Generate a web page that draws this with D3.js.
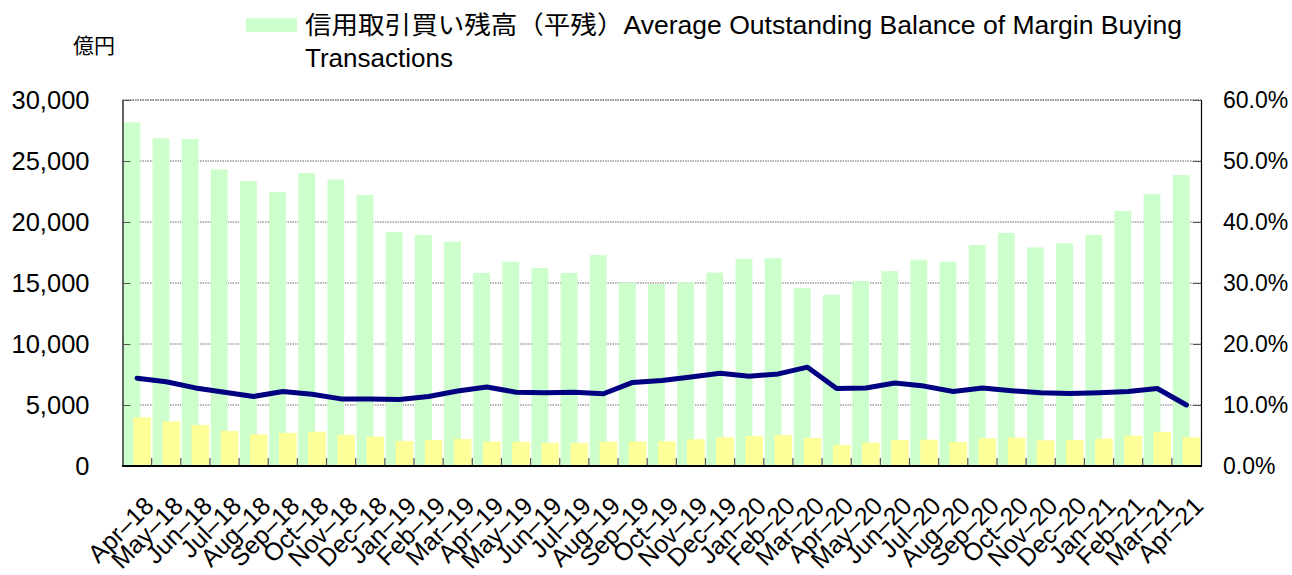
<!DOCTYPE html>
<html>
<head>
<meta charset="utf-8">
<script src="https://cdn.jsdelivr.net/npm/d3@7"></script>
<style>
  html, body { margin: 0; padding: 0; background: #fff; }
  svg { display: block; }
  text { font-family: "Liberation Sans", Arial, "Noto Sans CJK JP", sans-serif; fill: #000; }
</style>
</head>
<body>
<svg id="chart" width="1292" height="575"></svg>
<script>
// ---- data ----
const categories = ["Apr–18","May–18","Jun–18","Jul–18","Aug–18","Sep–18","Oct–18","Nov–18","Dec–18",
  "Jan–19","Feb–19","Mar–19","Apr–19","May–19","Jun–19","Jul–19","Aug–19","Sep–19","Oct–19","Nov–19","Dec–19",
  "Jan–20","Feb–20","Mar–20","Apr–20","May–20","Jun–20","Jul–20","Aug–20","Sep–20","Oct–20","Nov–20","Dec–20",
  "Jan–21","Feb–21","Mar–21","Apr–21"];
// 信用取引買い残高（平残） 億円
const buyingBalance = [28170, 26860, 26800, 24320, 23360, 22460, 24020, 23470, 22210,
  19180, 18940, 18390, 15820, 16750, 16230, 15820, 17300, 15030, 14920, 15060, 15850,
  16970, 17050, 14590, 14040, 15160, 15980, 16910, 16750, 18120, 19100, 17920, 18250,
  18940, 20900, 22300, 23850];
// second (yellow) bar series, 億円
const secondSeries = [3990, 3660, 3360, 2870, 2600, 2710, 2810, 2540, 2400,
  2050, 2130, 2210, 2000, 1970, 1900, 1890, 2000, 2000, 2020, 2190, 2350,
  2460, 2540, 2300, 1720, 1910, 2130, 2160, 1970, 2270, 2320, 2100, 2130,
  2240, 2490, 2790, 2350];
// ratio line, %
const ratioLine = [14.4, 13.8, 12.8, 12.1, 11.4, 12.2, 11.75, 11.0, 11.0,
  10.9, 11.4, 12.3, 12.95, 12.1, 12.0, 12.1, 11.85, 13.7, 14.0, 14.6, 15.2,
  14.7, 15.1, 16.2, 12.7, 12.8, 13.6, 13.1, 12.2, 12.8, 12.35, 12.0, 11.9,
  12.0, 12.2, 12.7, 10.0];
const leftTicks = [0, 5000, 10000, 15000, 20000, 25000, 30000];
const rightTicks = [0, 0.1, 0.2, 0.3, 0.4, 0.5, 0.6];
const unitLabel = "億円";
const legendLine1 = "信用取引買い残高（平残）Average Outstanding Balance of Margin Buying";
const legendLine2 = "Transactions";

// ---- layout ----
const L = 122.5, R = 1201, T = 100, B = 466;
const svg = d3.select("#chart");

const x = d3.scaleBand().domain(categories).range([L, R]).paddingInner(0).paddingOuter(0);
const yL = d3.scaleLinear().domain([0, 30000]).range([B, T]);
const yR = d3.scaleLinear().domain([0, 0.6]).range([B, T]);
const bw = x.bandwidth();

// gridlines
svg.append("g").selectAll("line").data(leftTicks.filter(d => d > 0)).join("line")
  .attr("x1", L).attr("x2", R).attr("y1", d => yL(d)).attr("y2", d => yL(d))
  .attr("stroke", "#6b6b6b").attr("stroke-width", 1).attr("stroke-dasharray", "1.5,1");

// bars
svg.append("g").selectAll("rect").data(buyingBalance).join("rect")
  .attr("x", (d, i) => x(categories[i]) + bw * 0.03)
  .attr("width", bw * 0.58)
  .attr("y", d => yL(d)).attr("height", d => B - yL(d))
  .attr("fill", "#ccffcc");
svg.append("g").selectAll("rect").data(secondSeries).join("rect")
  .attr("x", (d, i) => x(categories[i]) + bw * 0.37)
  .attr("width", bw * 0.605)
  .attr("y", d => yL(d)).attr("height", d => B - yL(d))
  .attr("fill", "#ffff99");

// line
const line = d3.line().x((d, i) => x(categories[i]) + bw / 2).y(d => yR(d / 100));
svg.append("path").datum(ratioLine).attr("d", line)
  .attr("fill", "none").attr("stroke", "#000080").attr("stroke-width", 5)
  .attr("stroke-linejoin", "round").attr("stroke-linecap", "round");

// axes
const axL = svg.append("g").attr("transform", `translate(${L},0)`)
  .call(d3.axisLeft(yL).tickValues(leftTicks).tickSize(-8).tickPadding(33).tickFormat(d3.format(",")));
const axR = svg.append("g").attr("transform", `translate(${R},0)`)
  .call(d3.axisRight(yR).tickValues(rightTicks).tickSize(-8).tickPadding(22).tickFormat(d3.format(".1%")));
[axL, axR].forEach(a => {
  a.attr("font-family", null);
  a.select(".domain").attr("stroke", "#000").attr("stroke-width", 1.2);
  a.selectAll(".tick line").attr("stroke", "#555");
  a.selectAll("text").attr("fill", "#000");
});
axL.selectAll("text").attr("font-size", 25.5);
axR.selectAll("text").attr("font-size", 23);

const axB = svg.append("g").attr("transform", `translate(0,${B})`)
  .call(d3.axisBottom(x).tickSize(0).tickFormat(d => d));
axB.attr("font-family", null);
axB.select(".domain").remove();
axB.selectAll(".tick text")
  .attr("font-size", 25).attr("fill", "#000")
  .attr("text-anchor", "end")
  .attr("dy", "0.35em")
  .attr("transform", "translate(10,33) rotate(-45)");
axB.selectAll(".tick").selectAll("line").remove();
// category boundary ticks (inside)
svg.append("g").selectAll("line").data(categories.slice(1)).join("line")
  .attr("x1", d => x(d)).attr("x2", d => x(d)).attr("y1", B).attr("y2", B - 8)
  .attr("stroke", "#555").attr("stroke-width", 1.2);
svg.append("line").attr("x1", L - 0.5).attr("x2", R + 0.5).attr("y1", B).attr("y2", B)
  .attr("stroke", "#000").attr("stroke-width", 2);
svg.append("line").attr("x1", L).attr("x2", R).attr("y1", T).attr("y2", T)
  .attr("stroke", "#6b6b6b").attr("stroke-width", 1).attr("stroke-dasharray", "1.5,1");

// unit label
svg.append("text").attr("x", 94).attr("y", 53).attr("text-anchor", "middle")
  .attr("font-size", 21).text(unitLabel);

// legend
svg.append("rect").attr("x", 246).attr("y", 18).attr("width", 51).attr("height", 14).attr("fill", "#ccffcc");
const lg = svg.append("text").attr("font-size", 25);
lg.append("tspan").attr("x", 305).attr("y", 34)
  .attr("textLength", 877).attr("lengthAdjust", "spacingAndGlyphs").text(legendLine1);
lg.append("tspan").attr("x", 305).attr("y", 67)
  .attr("textLength", 148).attr("lengthAdjust", "spacingAndGlyphs").text(legendLine2);
</script>
</body>
</html>
